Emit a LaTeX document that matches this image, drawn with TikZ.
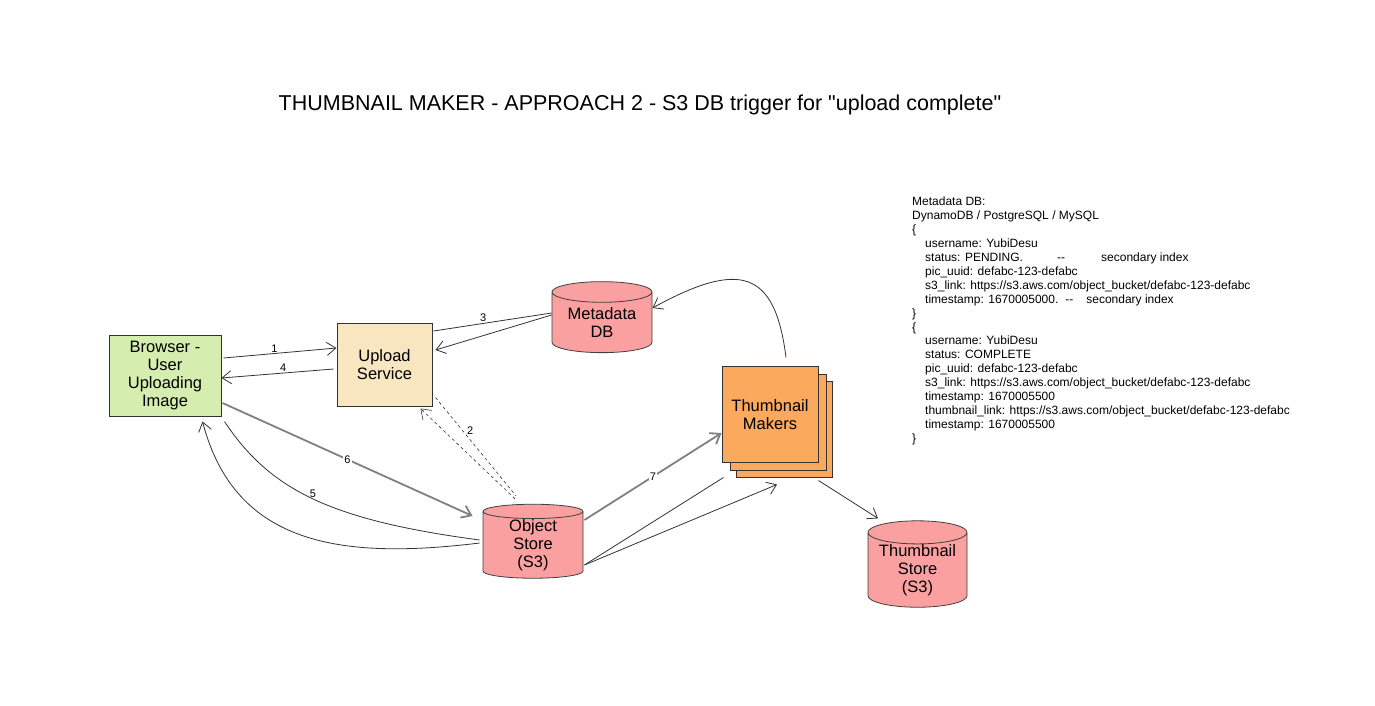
\documentclass[tikz,border=0pt]{standalone}
\usepackage{fontspec}
\setmainfont{Liberation Sans}[Ligatures=TeXOff]
\usetikzlibrary{arrows.meta,shapes.geometric}
\definecolor{browsergreen}{RGB}{213,237,175}
\definecolor{servicebeige}{RGB}{247,230,192}
\definecolor{storepink}{RGB}{250,160,160}
\definecolor{makerorange}{RGB}{251,169,92}
\definecolor{edgegray}{RGB}{128,128,128}

\begin{document}
\begin{tikzpicture}
                [
                x=1pt,y=-1pt,
                box/.style={rectangle,draw=black!80,line width=1pt,align=center,inner sep=0pt,font=\fontsize{16.5}{18}\selectfont},
                store/.style={cylinder,shape border rotate=90,aspect=0.3,draw=black!75,line width=0.8pt,fill=storepink,align=center,inner sep=0pt,font=\fontsize{16.5}{18}\selectfont},
                line/.style={draw=black!80,line width=0.8pt},
                edge/.style={line,->,>={Straight Barb[length=9pt,width=13pt]}},
                grayedge/.style={edge,draw=edgegray,line width=1.8pt},
                dashededge/.style={edge,dash pattern=on 3pt off 3pt,line width=0.6pt},
                lbl/.style={font=\fontsize{11}{13}\selectfont,inner sep=1pt}
                ]
            \fill[white] (0,0) rectangle (1375,705);
            \useasboundingbox (0,0) rectangle (1375,705);
            \node (title) at (640,105) {\fontsize{21.5}{24}\selectfont THUMBNAIL MAKER - APPROACH 2 - S3 DB trigger for "upload complete"};
            \node[box,fill=browsergreen,minimum width=112pt,minimum height=81pt] (browser) at (165,375.5) {Browser -\\User\\Uploading\\Image};
            \node[box,fill=servicebeige,minimum width=95pt,minimum height=83pt] (upload) at (384.5,364.5) {Upload\\Service};
            \node[store,minimum width=100pt,minimum height=71pt] (metadb) at (602,322.5) {Metadata\\DB};
            \node[store,minimum width=100pt,minimum height=74pt] (objstore) at (533,545) {Object\\Store\\(S3)};
            \node[store,minimum width=99pt,minimum height=76pt] (thumbstore) at (917.5,570) {Thumbnail\\Store\\(S3)};
            \node[box,fill=makerorange,minimum width=96pt,minimum height=96pt] (makersc) at (784,429.5) {};
            \node[box,fill=makerorange,minimum width=96pt,minimum height=96pt] (makersb) at (778,422.5) {};
            \node[box,fill=makerorange,minimum width=96pt,minimum height=96pt] (makers) at (770,414.5) {Thumbnail\\Makers};
            \node[anchor=north west,align=left,inner sep=0pt,font=\fontsize{12}{13.9}\selectfont] (notes) at (912,197) {%
                Metadata DB:\\
                DynamoDB / PostgreSQL / MySQL\\
                \{\\
                \hspace*{13pt}username: YubiDesu\\
                \hspace*{13pt}\makebox[132pt][l]{status: PENDING.}--\hspace{36pt}secondary index\\
                \hspace*{13pt}pic\_uuid: defabc-123-defabc\\
                \hspace*{13pt}s3\_link: https://s3.aws.com/object\_bucket/defabc-123-defabc\\
                \hspace*{13pt}timestamp: 1670005000.\hspace{7pt}--\hspace{13pt}secondary index\\
                \}\\
                \{\\
                \hspace*{13pt}username: YubiDesu\\
                \hspace*{13pt}status: COMPLETE\\
                \hspace*{13pt}pic\_uuid: defabc-123-defabc\\
                \hspace*{13pt}s3\_link: https://s3.aws.com/object\_bucket/defabc-123-defabc\\
                \hspace*{13pt}timestamp: 1670005500\\
                \hspace*{13pt}thumbnail\_link: https://s3.aws.com/object\_bucket/defabc-123-defabc\\
                \hspace*{13pt}timestamp: 1670005500\\
                \}};
            % browser <-> upload service
            \draw[edge] ([shift={(2,-17.5)}]browser.east) -- node[lbl,above,pos=0.45] {1} ([shift={(0,-16.5)}]upload.west);
            \draw[edge] ([shift={(-3,4.5)}]upload.west) -- node[lbl,above,pos=0.45] {4} ([shift={(0,2.5)}]browser.east);
            % upload service <-> metadata db
            \draw[line] ([shift={(1,-33.5)}]upload.east) -- node[lbl,above,pos=0.42] {3} ([shift={(0,-9.5)}]metadb.west);
            \draw[edge] ([shift={(0,-7.5)}]metadb.west) -- ([shift={(3,-14.5)}]upload.east);
            % object store -> upload service
            \draw[line,dash pattern=on 3pt off 3pt,line width=0.6pt] ([shift={(3,-9)}]upload.south east) -- node[lbl,right=3pt,pos=0.34] {2} ([shift={(-17,-8)}]objstore.north);
            \draw[dashededge] ([shift={(-18,-5)}]objstore.north) -- ([shift={(-12,2)}]upload.south east);
            % browser <-> object store
            \draw[grayedge] ([shift={(1,27.5)}]browser.east) -- node[lbl,fill=white,pos=0.5] {6} ([shift={(-10,-29)}]objstore.west);
            \draw[line] ([shift={(3,5)}]browser.south east) .. controls (270,490) and (330,520) .. node[lbl,above,pos=0.5] {5} ([shift={(-3,-5)}]objstore.west);
            \draw[edge] ([shift={(-3,-2)}]objstore.west) .. controls (340,560) and (235,545) .. ([shift={(-19,5)}]browser.south east);
            % object store -> thumbnail makers
            \draw[grayedge] ([shift={(1,-25)}]objstore.east) -- node[lbl,fill=white,pos=0.5] {7} ([shift={(0,18.5)}]makers.west);
            \draw[line] ([shift={(1,20)}]objstore.east) -- ([shift={(2,14.5)}]makers.south west);
            \draw[edge] ([shift={(1,20)}]objstore.east) -- ([shift={(7,21.5)}]makers.south);
            % thumbnail makers -> stores
            \draw[edge] ([shift={(0,17.5)}]makers.south east) -- ([shift={(-39.5,-2)}]thumbstore.north);
            \draw[edge] ([shift={(16,-8.5)}]makers.north) .. controls (775,270) and (740,260) .. ([shift={(0,-14.5)}]metadb.east);
\end{tikzpicture}
\end{document}
